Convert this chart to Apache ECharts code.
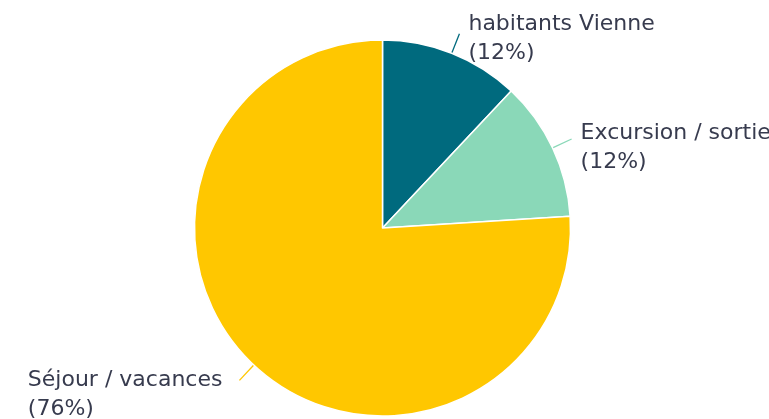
<!DOCTYPE html>
<html>
<head>
<meta charset="utf-8">
<script src="https://cdn.jsdelivr.net/npm/echarts@6/dist/echarts.min.js"></script>
<style>
html,body{margin:0;padding:0;background:#fff;}
#c{width:769px;height:419px;}
</style>
</head>
<body>
<div id="c"></div>
<script>
const categories = ['habitants Vienne', 'Excursion / sortie', 'Séjour / vacances'];
const values = [12, 12, 76];
const colors = ['#006A7E', '#8AD8B8', '#FFC700'];

const textStyle = {
  fontFamily: 'DejaVu Sans',
  fontSize: 22,
  lineHeight: 29,
  color: '#373B4E',
  align: 'left'
};

const labelTweaks = [
  { distanceToLabelLine: 9, padding: [10, 0, 0, 0], width: 300 },
  { distanceToLabelLine: 9, padding: [18, 0, 0, 0], width: 300 },
  { distanceToLabelLine: 17, padding: [28, 0, 0, 0] }
];

const chart = echarts.init(document.getElementById('c'), null, { renderer: 'canvas' });
chart.setOption({
  animation: false,
  backgroundColor: '#ffffff',
  series: [{
    type: 'pie',
    center: [382.5, 228],
    radius: [0, 188],
    startAngle: 90,
    clockwise: true,
    avoidLabelOverlap: false,
    itemStyle: { borderColor: '#ffffff', borderWidth: 1.5 },
    label: {
      show: true,
      position: 'outside',
      formatter: '{a|{b}}\n{a|({c}%)}',
      fontFamily: 'DejaVu Sans',
      fontSize: 22,
      lineHeight: 29,
      color: '#373B4E',
      overflow: 'none',
      rich: { a: textStyle }
    },
    labelLine: {
      show: true,
      length: 21,
      length2: 0,
      smooth: false,
      lineStyle: { width: 1.3 }
    },
    data: categories.map((name, i) => ({
      name: name,
      value: values[i],
      itemStyle: { color: colors[i] },
      label: labelTweaks[i],
      labelLine: { lineStyle: { color: colors[i] } }
    }))
  }]
});
</script>
</body>
</html>
